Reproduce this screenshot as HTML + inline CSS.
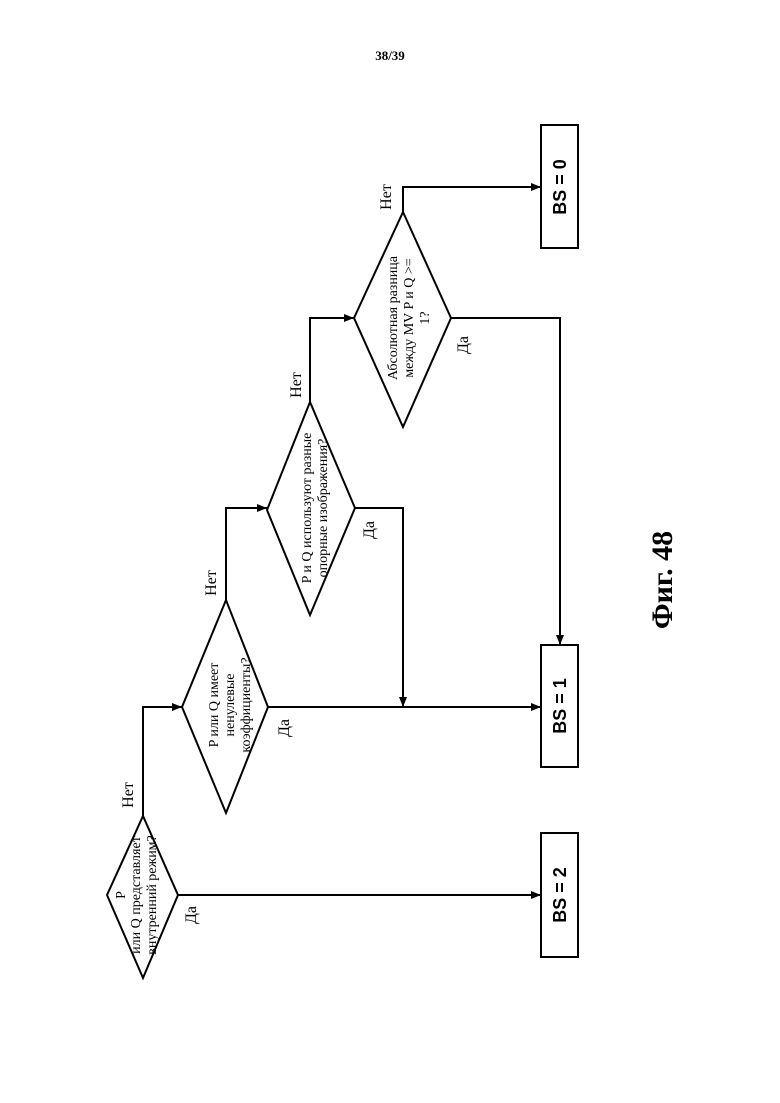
<!DOCTYPE html>
<html><head><meta charset="utf-8"><style>
html,body{margin:0;padding:0;background:#fff}
svg{display:block}
text{font-family:"Liberation Serif",serif;fill:#000}
</style></head><body>
<svg width="780" height="1103" viewBox="0 0 780 1103" xmlns="http://www.w3.org/2000/svg">
<defs><marker id="a" markerWidth="10" markerHeight="8" refX="10" refY="4" orient="auto" markerUnits="userSpaceOnUse"><path d="M0,0 L10,4 L0,8 z" fill="#000"/></marker></defs>
<text x="390" y="60" text-anchor="middle" font-size="13" font-weight="bold">38/39</text>
<g fill="none" stroke="#000" stroke-width="2">
<polygon points="107,895 143,816 178,895 143,978"/>
<polygon points="182,707 226,600 268,707 226,813"/>
<polygon points="267,510 310,402 355,508 310,615"/>
<polygon points="354,318 403,212 451,318 403,427"/>
<rect x="541" y="125" width="37" height="123"/>
<rect x="541" y="645" width="37" height="122"/>
<rect x="541" y="833" width="37" height="124"/>
<polyline points="143,816 143,707 182,707" marker-end="url(#a)"/>
<polyline points="178,895 541,895" marker-end="url(#a)"/>
<polyline points="226,600 226,508 267,508" marker-end="url(#a)"/>
<polyline points="268,707 541,707" marker-end="url(#a)"/>
<polyline points="355,508 403,508 403,707" marker-end="url(#a)"/>
<polyline points="310,402 310,318 354,318" marker-end="url(#a)"/>
<polyline points="403,212 403,187 541,187" marker-end="url(#a)"/>
<polyline points="451,318 560,318 560,645" marker-end="url(#a)"/>
</g>
<g font-size="16">
<text transform="translate(133,795) rotate(-90)" text-anchor="middle">Нет</text>
<text transform="translate(216,583) rotate(-90)" text-anchor="middle">Нет</text>
<text transform="translate(301,385) rotate(-90)" text-anchor="middle">Нет</text>
<text transform="translate(391,197) rotate(-90)" text-anchor="middle">Нет</text>
<text transform="translate(196,915) rotate(-90)" text-anchor="middle">Да</text>
<text transform="translate(289,728) rotate(-90)" text-anchor="middle">Да</text>
<text transform="translate(374,530) rotate(-90)" text-anchor="middle">Да</text>
<text transform="translate(468,345) rotate(-90)" text-anchor="middle">Да</text>
</g>
<g font-size="14">
<text transform="translate(125,895) rotate(-90)" text-anchor="middle">P</text>
<text transform="translate(140,895) rotate(-90)" text-anchor="middle">или Q представляет</text>
<text transform="translate(156,895) rotate(-90)" text-anchor="middle">внутренний режим?</text>
<text transform="translate(218,705) rotate(-90)" text-anchor="middle">P или Q имеет</text>
<text transform="translate(234,705) rotate(-90)" text-anchor="middle">ненулевые</text>
<text transform="translate(250,705) rotate(-90)" text-anchor="middle">коэффициенты?</text>
<text transform="translate(311,508) rotate(-90)" text-anchor="middle">P и Q используют разные</text>
<text transform="translate(327,508) rotate(-90)" text-anchor="middle">опорные изображения?</text>
<text transform="translate(397,318) rotate(-90)" text-anchor="middle">Абсолютная разница</text>
<text transform="translate(413,318) rotate(-90)" text-anchor="middle">между MV P и Q &gt;=</text>
<text transform="translate(429,318) rotate(-90)" text-anchor="middle">1?</text>
</g>
<g font-size="18" font-weight="bold">
<text transform="translate(566,187) rotate(-90)" text-anchor="middle" style="font-family:'Liberation Sans Narrow','Liberation Sans',sans-serif">BS = 0</text>
<text transform="translate(566,706) rotate(-90)" text-anchor="middle" style="font-family:'Liberation Sans Narrow','Liberation Sans',sans-serif">BS = 1</text>
<text transform="translate(566,895) rotate(-90)" text-anchor="middle" style="font-family:'Liberation Sans Narrow','Liberation Sans',sans-serif">BS = 2</text>
</g>
<text transform="translate(672,580) rotate(-90)" text-anchor="middle" font-size="30" font-weight="bold">Фиг. 48</text>
</svg>
</body></html>
